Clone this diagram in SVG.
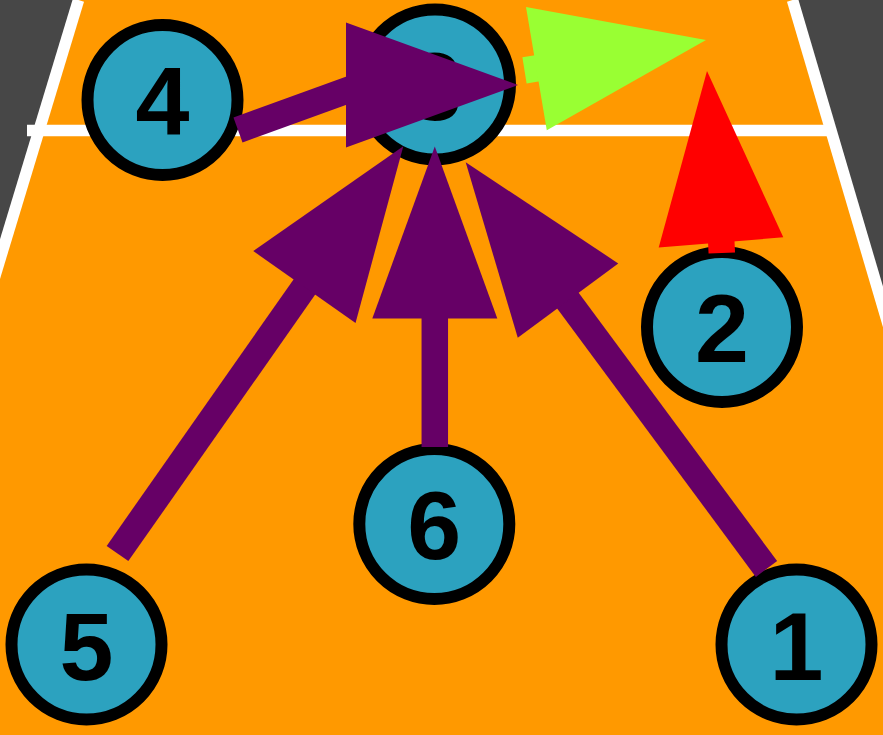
<svg xmlns="http://www.w3.org/2000/svg" xmlns:xlink="http://www.w3.org/1999/xlink" width="883" height="735" viewBox="0 0 883 735">
<style>
.court-line{stroke:#FFFFFF;stroke-width:11.5;fill:none}
.node circle{fill:#2CA2BF;stroke:#000000;stroke-width:12}
.node text{font-family:"Liberation Sans",Arial,sans-serif;font-weight:bold;font-size:97px;fill:#000000;text-anchor:middle}
.shaft{stroke-width:26.5;fill:none;stroke-linecap:butt}
.purple{stroke:#660066;fill:#660066}
.green{stroke:#99FF33;fill:#99FF33}
.red{stroke:#FF0000;fill:#FF0000}
</style>
<defs>
<polygon id="head" points="0,0 -172,-62.5 -172,62.5" stroke="none"/>
</defs>
<rect x="0" y="0" width="883" height="735" fill="#474747"/>
<g id="court">
<polygon points="78.5,0 792.5,0 1009.3,735 -144.2,735" fill="#FF9900"/>
<line class="court-line" x1="78.5" y1="0" x2="-144.2" y2="735"/>
<line class="court-line" x1="792.5" y1="0" x2="1009.3" y2="735"/>
<line class="court-line" x1="27" y1="130.5" x2="827" y2="130.5"/>
</g>
<g id="node-4" class="node"><circle cx="162.5" cy="100" r="75"/><text x="162.5" y="135">4</text></g>
<g id="node-3" class="node"><circle cx="435" cy="84.5" r="75"/><text x="435" y="119.5">3</text></g>
<g id="node-2" class="node"><circle cx="722" cy="327" r="75"/><text x="722" y="362">2</text></g>
<g id="node-6" class="node"><circle cx="434.3" cy="524" r="75"/><text x="434.3" y="559">6</text></g>
<g id="node-5" class="node"><circle cx="86.5" cy="644.5" r="75"/><text x="86.5" y="679.5">5</text></g>
<g id="node-1" class="node"><circle cx="796.5" cy="644.5" r="75"/><text x="796.5" y="679.5">1</text></g>
<g id="connectors">
<g id="arrow-4-3" class="purple">
<line class="shaft" x1="238" y1="130" x2="362" y2="85"/>
<use xlink:href="#head" href="#head" transform="translate(518,85)"/>
</g>
<g id="arrow-5-3" class="purple">
<line class="shaft" x1="117.5" y1="553.5" x2="310" y2="279"/>
<use xlink:href="#head" href="#head" transform="translate(403.3,146.3) rotate(-54.9)"/>
</g>
<g id="arrow-6-3" class="purple">
<line class="shaft" x1="434.8" y1="447" x2="434.8" y2="312"/>
<use xlink:href="#head" href="#head" transform="translate(434.8,146.5) rotate(-90)"/>
</g>
<g id="arrow-1-3" class="purple">
<line class="shaft" x1="766.5" y1="569" x2="563" y2="294"/>
<use xlink:href="#head" href="#head" transform="translate(465.7,162.3) rotate(-126.5)"/>
</g>
<g id="arrow-3-green" class="green">
<line class="shaft" x1="524.5" y1="70.3" x2="545" y2="67"/>
<use xlink:href="#head" href="#head" transform="translate(706,40) rotate(-9.57)"/>
</g>
<g id="arrow-2-red" class="red">
<line class="shaft" x1="721.8" y1="253" x2="721" y2="236"/>
<use xlink:href="#head" href="#head" transform="translate(707,71) rotate(-94.67)"/>
</g>
</g>
</svg>
